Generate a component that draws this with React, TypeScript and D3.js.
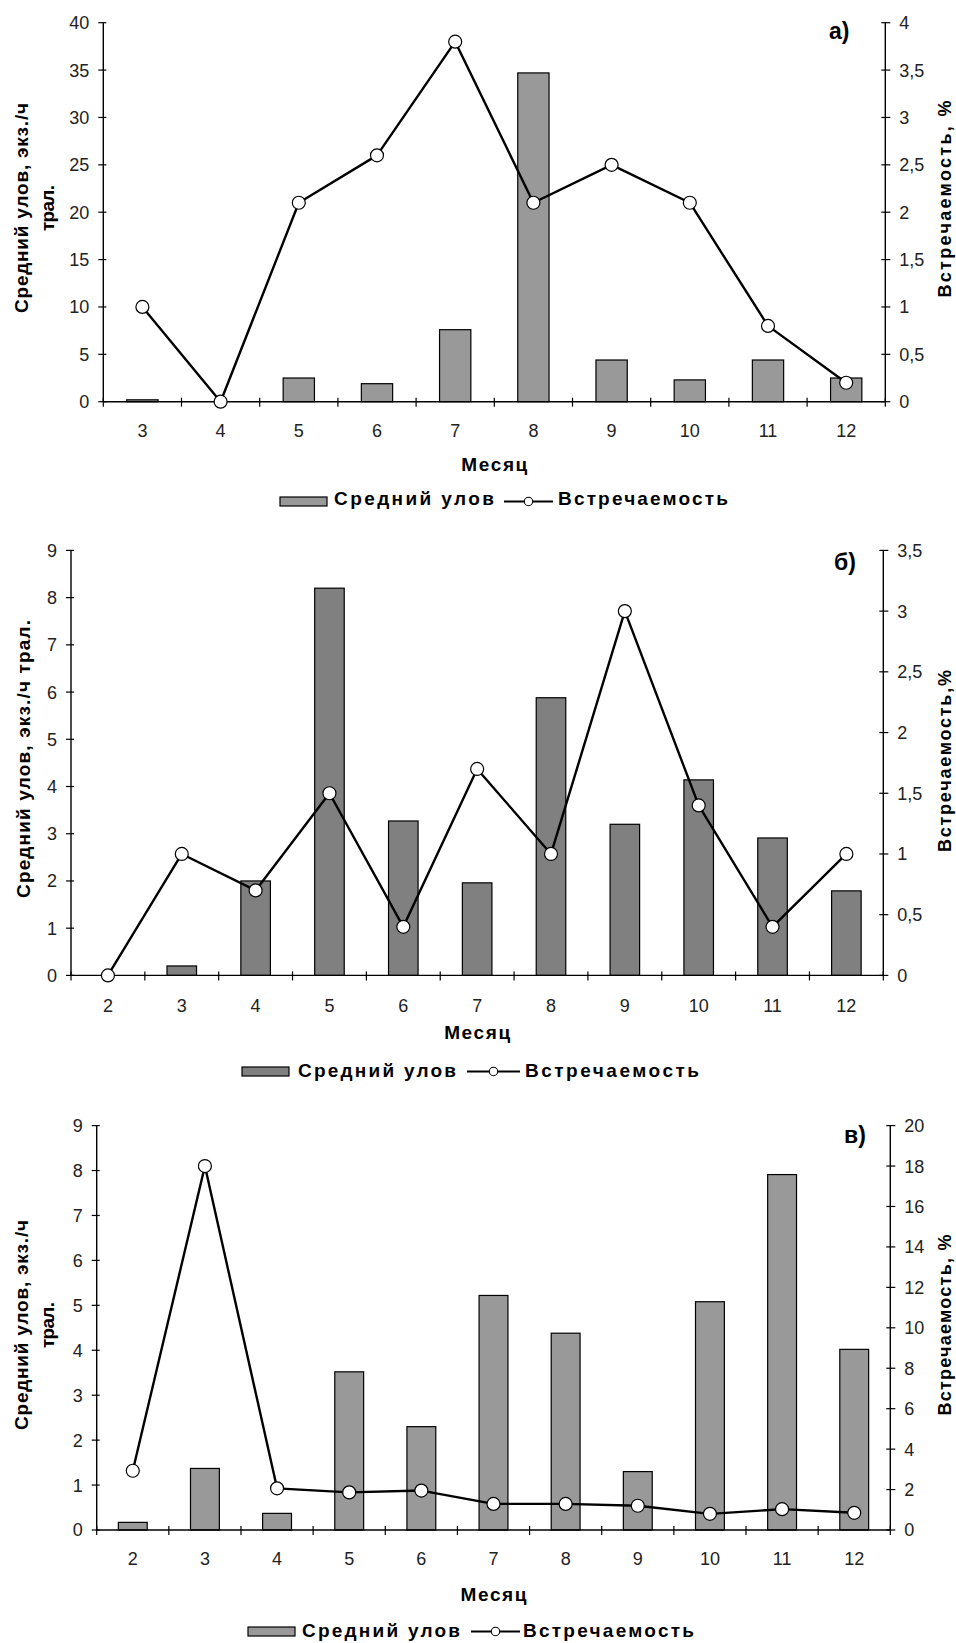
import React from "react";
import * as d3 from "d3";

// ---- Panel а) ----
const monthsA = ["3", "4", "5", "6", "7", "8", "9", "10", "11", "12"];
const catchA = [0.2, 0, 2.5, 1.9, 7.6, 34.7, 4.4, 2.3, 4.4, 2.5];
const occurrenceA = [1.0, 0, 2.1, 2.6, 3.8, 2.1, 2.5, 2.1, 0.8, 0.2];
const leftTicksA = [0, 5, 10, 15, 20, 25, 30, 35, 40];
const rightTicksA = [0, 0.5, 1, 1.5, 2, 2.5, 3, 3.5, 4];

// ---- Panel б) ----
const monthsB = ["2", "3", "4", "5", "6", "7", "8", "9", "10", "11", "12"];
const catchB = [0, 0.2, 2.0, 8.2, 3.27, 1.96, 5.88, 3.2, 4.14, 2.91, 1.79];
const occurrenceB = [0, 1.0, 0.7, 1.5, 0.4, 1.7, 1.0, 3.0, 1.4, 0.4, 1.0];
const leftTicksB = [0, 1, 2, 3, 4, 5, 6, 7, 8, 9];
const rightTicksB = [0, 0.5, 1, 1.5, 2, 2.5, 3, 3.5];

// ---- Panel в) ----
const monthsC = ["2", "3", "4", "5", "6", "7", "8", "9", "10", "11", "12"];
const catchC = [0.17, 1.37, 0.37, 3.52, 2.3, 5.22, 4.38, 1.3, 5.08, 7.91, 4.02];
const occurrenceC = [2.93, 18, 2.06, 1.86, 1.95, 1.29, 1.29, 1.2, 0.8, 1.03, 0.85];
const leftTicksC = [0, 1, 2, 3, 4, 5, 6, 7, 8, 9];
const rightTicksC = [0, 2, 4, 6, 8, 10, 12, 14, 16, 18, 20];

const xTitle = "Месяц";
const legendBar = "Средний улов";
const legendLine = "Встречаемость";

const NUM_FONT = "'Liberation Sans', Arial, sans-serif";
const fmt = (v: number) => String(v).replace(".", ",");

interface Layout {
  x0: number; x1: number; y0: number; y1: number;
  barFill: string;
  letter: string; letterX: number; letterY: number;
  leftTitle: string[]; leftTitleXs: number[]; leftTitleLens: number[]; leftTitleCy: number;
  rightTitle: string; rightTitleX: number; rightTitleLen: number; rightTitleCy: number;
  tickLabelY: number; xTitleY: number;
  legSwatchX: number; legTop: number; legText1X: number; legText1Len: number;
  legLineX0: number; legLineX1: number; legText2X: number; legText2Len: number; legBase: number;
}

interface PanelProps {
  months: string[];
  catches: number[];
  occurrence: number[];
  leftTicks: number[];
  rightTicks: number[];
  L: Layout;
}

function Panel({ months, catches, occurrence, leftTicks, rightTicks, L }: PanelProps) {
  const x = d3.scaleBand<string>().domain(months).range([L.x0, L.x1]).paddingInner(0.6).paddingOuter(0.3);
  const yL = d3.scaleLinear().domain([0, d3.max(leftTicks) as number]).range([L.y1, L.y0]);
  const yR = d3.scaleLinear().domain([0, d3.max(rightTicks) as number]).range([L.y1, L.y0]);
  const step = x.step();
  const cx = (m: string) => (x(m) as number) + x.bandwidth() / 2;
  const line = d3.line<number>().x((_, i) => cx(months[i])).y((d) => yR(d));
  const boundaries = d3.range(months.length + 1).map((i) => L.x0 + i * step);
  const legCircle = (L.legLineX0 + L.legLineX1) / 2;
  const legMid = L.legTop + 4.5;

  return (
    <g>
      {/* bars: mean catch */}
      {catches.map((v, i) =>
        v > 0 ? (
          <rect key={"b" + i} x={x(months[i])} y={yL(v)} width={x.bandwidth()} height={yL(0) - yL(v)}
            fill={L.barFill} stroke="#000" strokeWidth={1.2} />
        ) : null
      )}

      {/* axes */}
      <line x1={L.x0} x2={L.x0} y1={L.y0} y2={L.y1} stroke="#000" strokeWidth={1.4} />
      <line x1={L.x1} x2={L.x1} y1={L.y0} y2={L.y1} stroke="#000" strokeWidth={1.4} />
      <line x1={L.x0} x2={L.x1} y1={L.y1} y2={L.y1} stroke="#000" strokeWidth={1.4} />
      {leftTicks.map((t) => (
        <g key={"l" + t}>
          <line x1={L.x0 - 5} x2={L.x0 + 3} y1={yL(t)} y2={yL(t)} stroke="#000" strokeWidth={1.2} />
          <text x={L.x0 - 14} y={yL(t)} dy="0.36em" textAnchor="end" fontFamily={NUM_FONT} fontSize={18} fill="#222">
            {fmt(t)}
          </text>
        </g>
      ))}
      {rightTicks.map((t) => (
        <g key={"r" + t}>
          <line x1={L.x1 - 4} x2={L.x1 + 5} y1={yR(t)} y2={yR(t)} stroke="#000" strokeWidth={1.2} />
          <text x={L.x1 + 14} y={yR(t)} dy="0.36em" textAnchor="start" fontFamily={NUM_FONT} fontSize={18} fill="#222">
            {fmt(t)}
          </text>
        </g>
      ))}
      {boundaries.map((bx, i) => (
        <line key={"xt" + i} x1={bx} x2={bx} y1={L.y1 - 4} y2={L.y1 + 5} stroke="#000" strokeWidth={1.2} />
      ))}
      {months.map((m) => (
        <text key={"xl" + m} x={cx(m)} y={L.tickLabelY} textAnchor="middle" fontFamily={NUM_FONT} fontSize={18} fill="#222">
          {m}
        </text>
      ))}

      {/* occurrence line */}
      <path d={line(occurrence) as string} fill="none" stroke="#000" strokeWidth={2.4} strokeLinejoin="round" />
      {occurrence.map((v, i) => (
        <circle key={"p" + i} cx={cx(months[i])} cy={yR(v)} r={6.5} fill="#fff" stroke="#000" strokeWidth={1.2} />
      ))}

      {/* titles */}
      <text x={(L.x0 + L.x1) / 2} y={L.xTitleY} textAnchor="middle" fontFamily={NUM_FONT} fontWeight="bold" fontSize={19}
        textLength={66} lengthAdjust="spacing">
        {xTitle}
      </text>
      {L.leftTitle.map((s, i) => (
        <text key={"lt" + i} transform={`translate(${L.leftTitleXs[i]},${L.leftTitleCy}) rotate(-90)`} textAnchor="middle"
          fontFamily={NUM_FONT} fontWeight="bold" fontSize={19} textLength={L.leftTitleLens[i]} lengthAdjust="spacing">
          {s}
        </text>
      ))}
      <text transform={`translate(${L.rightTitleX},${L.rightTitleCy}) rotate(-90)`} textAnchor="middle"
        fontFamily={NUM_FONT} fontWeight="bold" fontSize={18} textLength={L.rightTitleLen} lengthAdjust="spacing">
        {L.rightTitle}
      </text>
      <text x={L.letterX} y={L.letterY} fontFamily={NUM_FONT} fontWeight="bold" fontSize={23}>
        {L.letter}
      </text>

      {/* legend */}
      <rect x={L.legSwatchX} y={L.legTop} width={47} height={9} fill={L.barFill} stroke="#000" strokeWidth={1.2} />
      <text x={L.legText1X} y={L.legBase} fontFamily={NUM_FONT} fontWeight="bold" fontSize={19}
        textLength={L.legText1Len} lengthAdjust="spacing">
        {legendBar}
      </text>
      <line x1={L.legLineX0} x2={L.legLineX1} y1={legMid} y2={legMid} stroke="#000" strokeWidth={2.2} />
      <circle cx={legCircle} cy={legMid} r={4.2} fill="#fff" stroke="#000" strokeWidth={1.1} />
      <text x={L.legText2X} y={L.legBase} fontFamily={NUM_FONT} fontWeight="bold" fontSize={19}
        textLength={L.legText2Len} lengthAdjust="spacing">
        {legendLine}
      </text>
    </g>
  );
}

const layoutA: Layout = {
  x0: 103.3, x1: 885.3, y0: 22.7, y1: 401.7, barFill: "#999999",
  letter: "а)", letterX: 829, letterY: 39,
  leftTitle: ["Средний улов, экз./ч", "трал."], leftTitleXs: [28, 54], leftTitleLens: [210, 46], leftTitleCy: 208,
  rightTitle: "Встречаемость, %", rightTitleX: 951, rightTitleLen: 197, rightTitleCy: 199,
  tickLabelY: 437, xTitleY: 471,
  legSwatchX: 280, legTop: 497, legText1X: 334, legText1Len: 160,
  legLineX0: 504, legLineX1: 553, legText2X: 558, legText2Len: 170, legBase: 505,
};

const layoutB: Layout = {
  x0: 71, x1: 883.3, y0: 550.4, y1: 975.4, barFill: "#808080",
  letter: "б)", letterX: 834, letterY: 570,
  leftTitle: ["Средний улов, экз./ч трал."], leftTitleXs: [30], leftTitleLens: [278], leftTitleCy: 759,
  rightTitle: "Встречаемость,%", rightTitleX: 951, rightTitleLen: 182, rightTitleCy: 761,
  tickLabelY: 1012, xTitleY: 1039,
  legSwatchX: 242, legTop: 1067, legText1X: 298, legText1Len: 158,
  legLineX0: 467, legLineX1: 520, legText2X: 525, legText2Len: 174, legBase: 1077,
};

const layoutC: Layout = {
  x0: 96.7, x1: 890.3, y0: 1125.6, y1: 1530, barFill: "#999999",
  letter: "в)", letterX: 844, letterY: 1143,
  leftTitle: ["Средний улов, экз./ч", "трал."], leftTitleXs: [28, 54], leftTitleLens: [210, 46], leftTitleCy: 1325,
  rightTitle: "Встречаемость, %", rightTitleX: 951, rightTitleLen: 181, rightTitleCy: 1325,
  tickLabelY: 1565, xTitleY: 1601,
  legSwatchX: 248, legTop: 1627, legText1X: 302, legText1Len: 158,
  legLineX0: 471, legLineX1: 520, legText2X: 523, legText2Len: 171, legBase: 1637,
};

export default function App() {
  return (
    <svg width={956} height={1643} viewBox="0 0 956 1643"
      style={{ position: "absolute", left: 0, top: 0, background: "#fff" }}>
      <rect width={956} height={1643} fill="#fff" />
      <Panel months={monthsA} catches={catchA} occurrence={occurrenceA} leftTicks={leftTicksA} rightTicks={rightTicksA} L={layoutA} />
      <Panel months={monthsB} catches={catchB} occurrence={occurrenceB} leftTicks={leftTicksB} rightTicks={rightTicksB} L={layoutB} />
      <Panel months={monthsC} catches={catchC} occurrence={occurrenceC} leftTicks={leftTicksC} rightTicks={rightTicksC} L={layoutC} />
    </svg>
  );
}
